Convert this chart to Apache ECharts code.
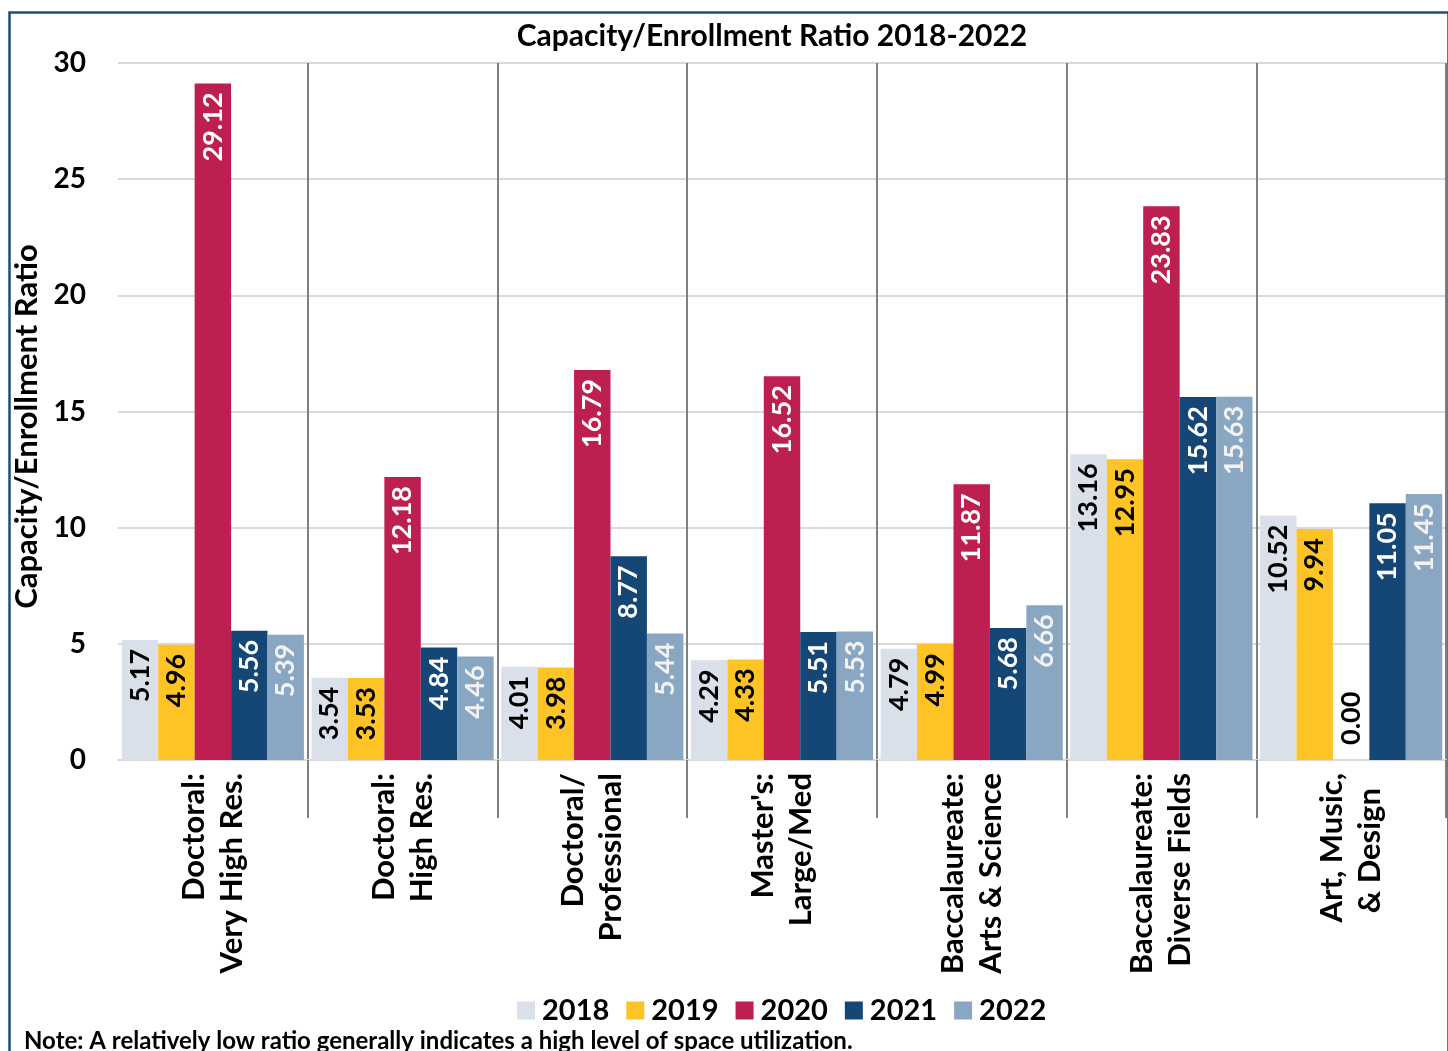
<!DOCTYPE html>
<html>
<head>
<meta charset="utf-8">
<script src="https://cdn.jsdelivr.net/npm/echarts@6/dist/echarts.min.js"></script>
<style>
html,body{margin:0;padding:0;background:#fff;}
#main{width:1448px;height:1051px;}
</style>
</head>
<body>
<div id="main"></div>
<script>
const categories = [
  "Doctoral:\nVery High Res.",
  "Doctoral:\nHigh Res.",
  "Doctoral/\nProfessional",
  "Master's:\nLarge/Med",
  "Baccalaureate:\nArts & Science",
  "Baccalaureate:\nDiverse Fields",
  "Art, Music,\n& Design  "
];
const years = ["2018", "2019", "2020", "2021", "2022"];
const y2018 = [5.17, 3.54, 4.01, 4.29, 4.79, 13.16, 10.52];
const y2019 = [4.96, 3.53, 3.98, 4.33, 4.99, 12.95, 9.94];
const y2020 = [29.12, 12.18, 16.79, 16.52, 11.87, 23.83, 0.00];
const y2021 = [5.56, 4.84, 8.77, 5.51, 5.68, 15.62, 11.05];
const y2022 = [5.39, 4.46, 5.44, 5.53, 6.66, 15.63, 11.45];
const yTicks = [0, 5, 10, 15, 20, 25, 30];

const seriesValues = [y2018, y2019, y2020, y2021, y2022];
const colors = ["#D9E0E9", "#FEC325", "#BD1F50", "#144776", "#89A7C2"];
const labelColors = ["#000000", "#000000", "#ffffff", "#ffffff", "#f2f2f2"];
const FONT = "Lato";

const chart = echarts.init(document.getElementById('main'));

const series = seriesValues.map((vals, si) => ({
  name: years[si],
  type: 'bar',
  barGap: '0%',
  barCategoryGap: '4%',
  itemStyle: { color: colors[si] },
  label: {
    show: true,
    position: 'insideTop',
    rotate: 90,
    align: 'right',
    verticalAlign: 'middle',
    distance: 9,
    color: labelColors[si],
    fontFamily: FONT,
    fontWeight: 'bold',
    fontSize: 27,
    formatter: p => Number(p.value).toFixed(2)
  },
  data: vals.map(v => v === 0 ? {
    value: v,
    label: { position: 'top', align: 'left', distance: 15, color: '#000000' }
  } : v)
}));

chart.setOption({
  animation: false,
  backgroundColor: '#ffffff',
  title: [
    {
      text: 'Capacity/Enrollment Ratio 2018-2022',
      left: 772,
      top: 21,
      padding: 0,
      textAlign: 'center',
      textStyle: { fontFamily: FONT, fontWeight: 'bold', fontSize: 30, color: '#000' }
    },
    {
      text: 'Note: A relatively low ratio generally indicates a high level of space utilization.',
      left: 24,
      top: 1029,
      padding: 0,
      textStyle: { fontFamily: FONT, fontWeight: 'bold', fontSize: 24, color: '#000' }
    }
  ],
  legend: {
    data: years,
    left: 512,
    top: 991,
    icon: 'rect',
    itemWidth: 18,
    itemHeight: 18,
    itemGap: 17,
    textStyle: { fontFamily: FONT, fontWeight: 'bold', fontSize: 29, color: '#000', padding: [0, 0, 0, 2] }
  },
  grid: { left: 118, right: 2, top: 63, bottom: 291, containLabel: false },
  xAxis: {
    type: 'category',
    data: categories,
    boundaryGap: true,
    axisLine: { show: true, lineStyle: { color: '#D9D9D9', width: 2 } },
    axisTick: {
      show: true,
      length: 58,
      interval: (idx) => idx !== 0,
      lineStyle: { color: '#808080', width: 2 }
    },
    splitLine: {
      show: true,
      interval: (idx) => idx !== 0,
      lineStyle: { color: '#808080', width: 2 }
    },
    axisLabel: {
      interval: 0,
      rotate: 90,
      margin: 13,
      align: 'right',
      fontFamily: FONT,
      fontWeight: 'bold',
      fontSize: 31,
      lineHeight: 38,
      color: '#000'
    }
  },
  yAxis: {
    type: 'value',
    min: yTicks[0],
    max: yTicks[yTicks.length - 1],
    interval: 5,
    name: 'Capacity/Enrollment Ratio',
    nameLocation: 'middle',
    nameGap: 67,
    nameTextStyle: { fontFamily: FONT, fontWeight: 'bold', fontSize: 31, color: '#000', padding: [0, 30, 0, 0] },
    axisLine: { show: false },
    axisTick: { show: false },
    axisLabel: { margin: 32, fontFamily: FONT, fontWeight: 'bold', fontSize: 28, color: '#000' },
    splitLine: { show: true, lineStyle: { color: '#D9D9D9', width: 2 } }
  },
  graphic: [
    {
      type: 'rect',
      left: 7, top: 10,
      shape: { x: 0, y: 0, width: 1439, height: 1070 },
      style: { fill: 'none', stroke: '#1B4F7E', lineWidth: 2.5 },
      z: 100, silent: true
    }
  ],
  series: series
});
</script>
</body>
</html>
